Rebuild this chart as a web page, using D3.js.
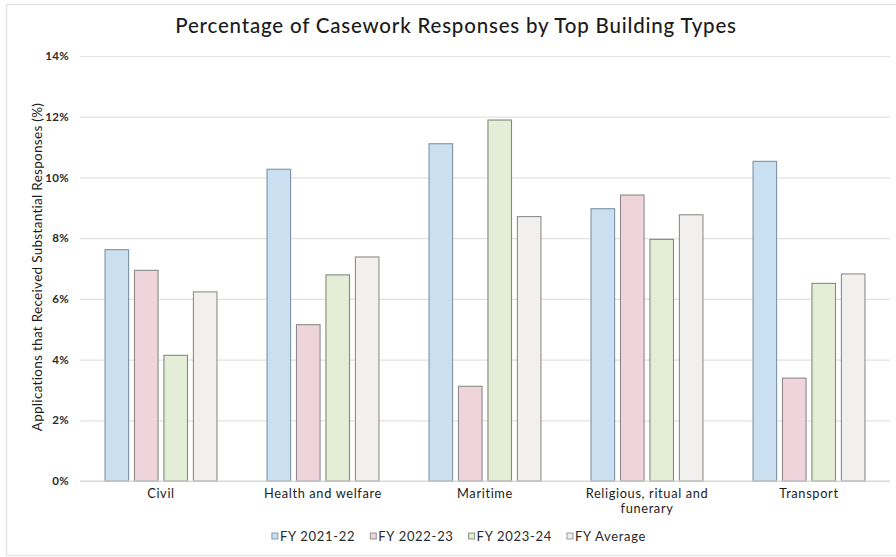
<!DOCTYPE html>
<html>
<head>
<meta charset="utf-8">
<script src="https://cdn.jsdelivr.net/npm/d3@7"></script>
<style>
  html, body { margin: 0; padding: 0; background: #fff; }
  svg { display: block; font-family: Lato, "Open Sans", sans-serif; }
</style>
</head>
<body>
<svg id="chart" width="896" height="557"></svg>
<script>
// Building types on the x axis
const categories = ["Civil", "Health and welfare", "Maritime", "Religious, ritual and funerary", "Transport"];
// Financial-year series
const seriesNames = ["FY 2021-22", "FY 2022-23", "FY 2023-24", "FY Average"];
// Percentage of applications that received substantial responses
const fy2122 = [7.62, 10.27, 11.11, 8.97, 10.53];
const fy2223 = [6.94, 5.15, 3.12, 9.42, 3.39];
const fy2324 = [4.14, 6.79, 11.89, 7.96, 6.51];
const fyAvg  = [6.23, 7.38, 8.71, 8.77, 6.82];
const seriesValues = [fy2122, fy2223, fy2324, fyAvg];
// Y axis ticks (percent)
const yTicks = [0, 2, 4, 6, 8, 10, 12, 14];

const fills   = ["#cae0f0", "#f0d4db", "#e4edd6", "#f2f0ee"];
const strokes = ["#7d93a6", "#8c8a8c", "#828a7c", "#8e8e8e"];

const svg = d3.select("#chart");

// light frame around the figure
svg.append("rect")
  .attr("x", 6.5).attr("y", 4.5).attr("width", 895).attr("height", 551)
  .attr("fill", "none").attr("stroke", "#e4e4e4").attr("stroke-width", 1.5);

const plotLeft = 80, plotRight = 890, plotTop = 56, plotBottom = 481;

const x0 = d3.scaleBand().domain(categories).range([plotLeft, plotRight])
  .paddingInner(0.309).paddingOuter(0.1545);
const x1 = d3.scaleBand().domain(seriesNames).range([0, x0.bandwidth()])
  .paddingInner(0.2).paddingOuter(0);
const y = d3.scaleLinear().domain([0, 14]).range([plotBottom, plotTop]);

// title
svg.append("text")
  .attr("x", 456).attr("y", 33)
  .attr("text-anchor", "middle")
  .attr("font-size", 20.5).attr("font-weight", 500)
  .attr("fill", "#1c1c1c")
  .attr("letter-spacing", 0.8)
  .text("Percentage of Casework Responses by Top Building Types");

// y axis with gridlines
const yAxis = d3.axisLeft(y).tickValues(yTicks).tickFormat(d => d + "%")
  .tickSize(-(plotRight - plotLeft)).tickPadding(11);
const gy = svg.append("g").attr("transform", `translate(${plotLeft},0)`).call(yAxis);
gy.select(".domain").remove();
gy.selectAll(".tick line").attr("stroke", "#e2e2e2").attr("stroke-width", 1.2);
gy.selectAll(".tick text")
  .attr("font-size", 11.5).attr("font-weight", 700)
  .attr("fill", "#2a2a2a")
  .attr("letter-spacing", 0.3)
  .attr("font-family", "Lato, sans-serif");

// y axis title
svg.append("text")
  .attr("transform", `translate(42,267) rotate(-90)`)
  .attr("text-anchor", "middle")
  .attr("font-size", 13.5).attr("fill", "#1c1c1c")
  .attr("letter-spacing", 0.3)
  .text("Applications that Received Substantial Responses (%)");

// bars
const groups = svg.append("g").selectAll("g")
  .data(categories)
  .join("g")
  .attr("transform", d => `translate(${x0(d)},0)`);

groups.selectAll("rect")
  .data((c, i) => seriesNames.map((s, j) => ({ s, j, v: seriesValues[j][i] })))
  .join("rect")
  .attr("x", d => x1(d.s))
  .attr("width", x1.bandwidth())
  .attr("y", d => y(d.v))
  .attr("height", d => y(0) - y(d.v))
  .attr("fill", d => fills[d.j])
  .attr("stroke", d => strokes[d.j])
  .attr("stroke-width", 1.1);

// baseline
svg.append("line")
  .attr("x1", plotLeft).attr("x2", plotRight).attr("y1", y(0)).attr("y2", y(0))
  .attr("stroke", "#d6d6d6").attr("stroke-width", 1.2);

// category labels, wrapped into lines that fit the band
const xLabels = svg.append("g");
categories.forEach(c => {
  const cx = x0(c) + x0.bandwidth() / 2;
  const lines = c === "Religious, ritual and funerary"
    ? ["Religious, ritual and", "funerary"] : [c];
  lines.forEach((ln, k) => {
    xLabels.append("text")
      .attr("x", cx).attr("y", 498 + k * 14.5)
      .attr("text-anchor", "middle")
      .attr("font-size", 12.8).attr("fill", "#1c1c1c")
      .attr("letter-spacing", 0.65)
      .text(ln);
  });
});

// legend
const legend = svg.append("g");
const items = legend.selectAll("g").data(seriesNames).join("g");
items.append("rect")
  .attr("x", 0).attr("y", -3).attr("width", 6).attr("height", 6)
  .attr("fill", (d, i) => fills[i]).attr("stroke", (d, i) => strokes[i]).attr("stroke-width", 0.9);
items.append("text")
  .attr("x", 8).attr("y", 4.8)
  .attr("font-size", 13).attr("fill", "#2a2a2a")
  .attr("letter-spacing", 0.7)
  .text(d => d);
let pos = 0;
const gap = 15;
const offsets = [];
items.each(function () {
  offsets.push(pos);
  pos += this.getBBox().width + gap;
});
const totalW = pos - gap;
const startX = 459 - totalW / 2;
items.attr("transform", (d, i) => `translate(${startX + offsets[i]},536)`);
</script>
</body>
</html>
